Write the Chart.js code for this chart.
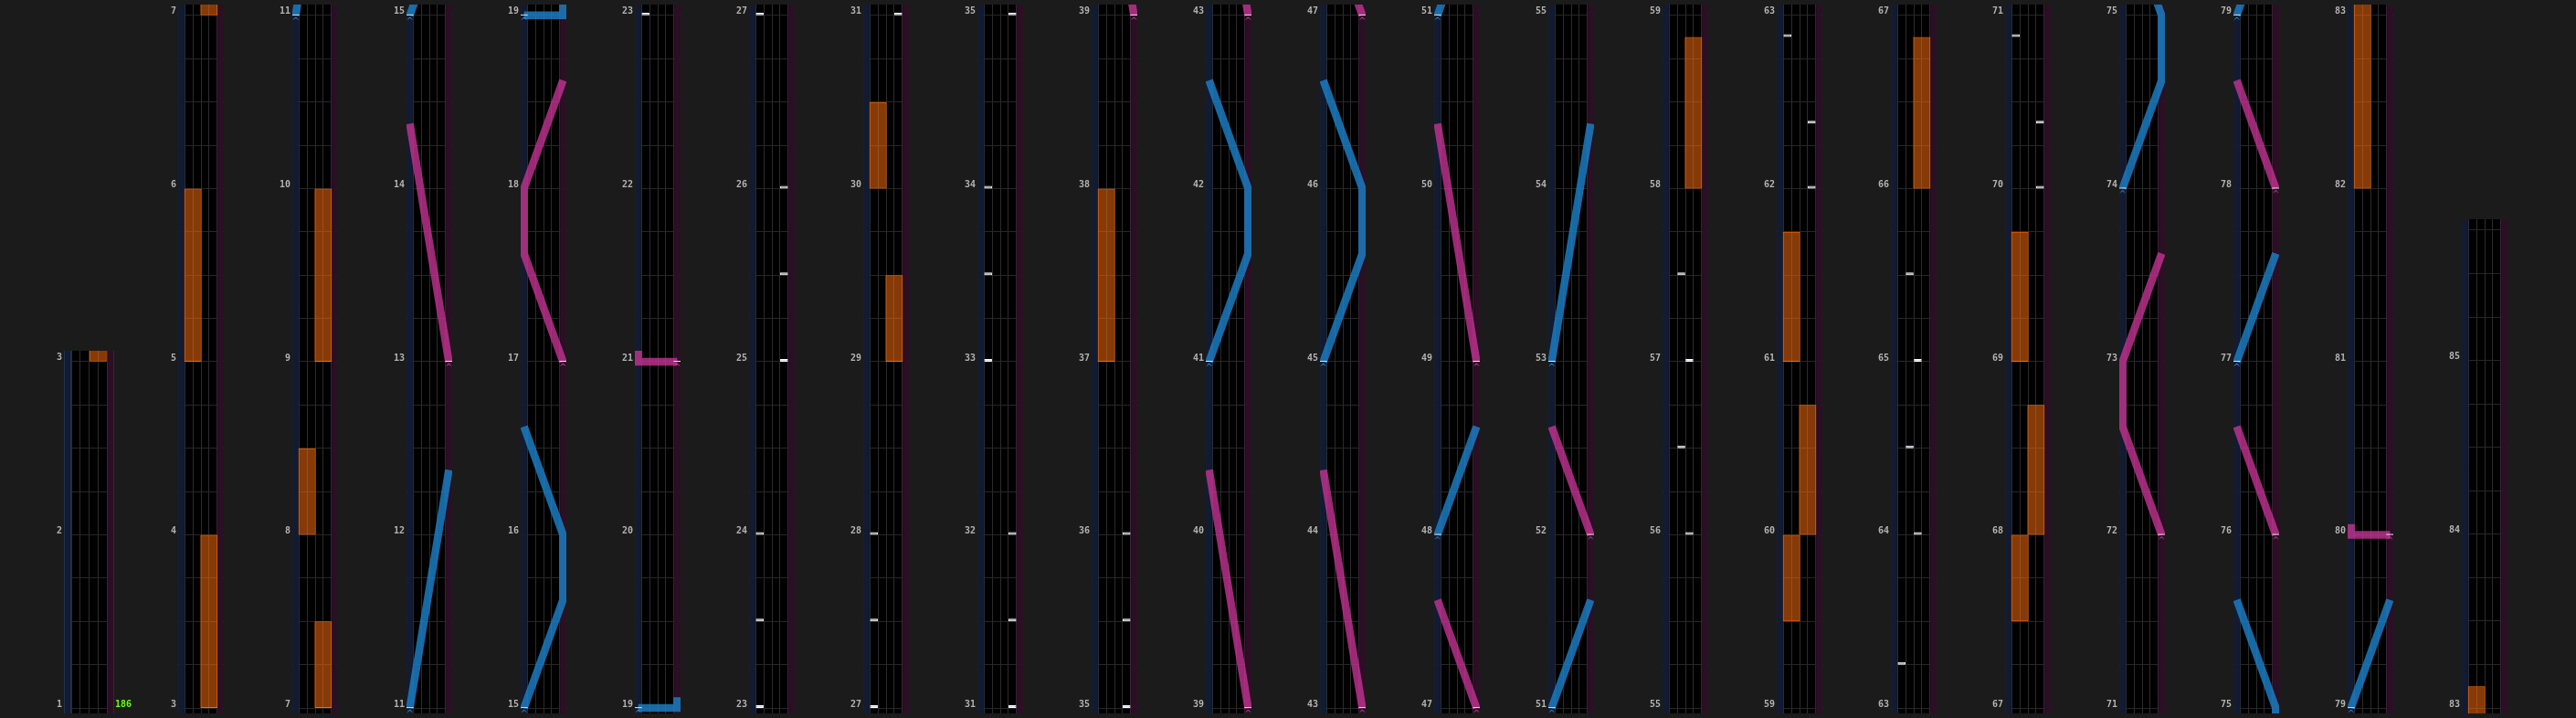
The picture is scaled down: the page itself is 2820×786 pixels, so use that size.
<!DOCTYPE html>
<html lang="en">
<head>
  <meta charset="UTF-8">
  <title>Chart</title>
  <script src="https://cdn.jsdelivr.net/npm/chart.js"></script>
  <style>
    body { margin: 0; background: #1b1b1b; width: 2820px; height: 786px; overflow: hidden; position: relative; }
    canvas { position: absolute; top: 0; }
  </style>
</head>
<body>
<script>
// measure where each column starts (each column holds 4 measures, the first one 2)
const columnStarts = [1, 3, 7, 11, 15, 19, 23, 27, 31, 35, 39, 43, 47, 51, 55, 59, 63, 67, 71, 75, 79, 83];
const songEnd = 85.75;

// [measure, bpm]
const bpmChanges = [[1, 186]];

// BT chips: [lane 1-4, measure]
const btChips = [
  [1, 23], [1, 23.5], [1, 24],
  [4, 25], [4, 25.5], [4, 26],
  [1, 27], [1, 27.5], [1, 28],
  [4, 31], [4, 31.5], [4, 32],
  [1, 33], [1, 33.5], [1, 34],
  [4, 35], [4, 35.5], [4, 36],
  [3, 56], [2, 56.5], [3, 57], [2, 57.5],
  [4, 62], [4, 62.375], [1, 62.875],
  [1, 63.25], [3, 64], [2, 64.5], [3, 65], [2, 65.5],
  [4, 70], [4, 70.375], [1, 70.875]
];

// FX holds: [side, start, end]
const fxHolds = [
  ['R', 3, 4], ['L', 5, 6], ['R', 7, 7.5], ['L', 8, 8.5], ['R', 9, 10],
  ['R', 29, 29.5], ['L', 30, 30.5], ['L', 37, 38],
  ['R', 58, 58.875], ['L', 59.5, 60], ['R', 60, 60.75], ['L', 61, 61.75],
  ['R', 66, 66.875], ['L', 67.5, 68], ['R', 68, 68.75], ['L', 69, 69.75],
  ['L', 82, 83.125]
];

// lasers: sections of [measure, position 0..1]
const laserL = [
  [[11, 0], [12.375, 1]],
  [[15, 0], [15.625, 1], [16, 1], [16.625, 0]],
  [[19, 0], [19, 1], [19.0625, 1]],
  [[41, 0], [41.625, 1], [42, 1], [42.625, 0]],
  [[45, 0], [45.625, 1], [46, 1], [46.625, 0]],
  [[48, 0], [48.625, 1]],
  [[51, 0], [51.625, 1]],
  [[53, 0], [54.375, 1]],
  [[74, 0], [74.625, 1], [75, 1], [75.625, 0]],
  [[77, 0], [77.625, 1]],
  [[79, 0], [79.625, 1]]
];
const laserR = [
  [[13, 1], [14.375, 0]],
  [[17, 1], [17.625, 0], [18, 0], [18.625, 1]],
  [[21, 1], [21, 0], [21.0625, 0]],
  [[39, 1], [40.375, 0]],
  [[43, 1], [44.375, 0]],
  [[47, 1], [47.625, 0]],
  [[49, 1], [50.375, 0]],
  [[52, 1], [52.625, 0]],
  [[72, 1], [72.625, 0], [73, 0], [73.625, 1]],
  [[76, 1], [76.625, 0]],
  [[78, 1], [78.625, 0]],
  [[80, 1], [80, 0], [80.0625, 0]]
];

// layout
const PX_PER_MEASURE = 192;
const COL_PITCH = 125;
const AXIS_W = 70;
const CANVAS_H = 786;
const OVERLAP = 0.0625;
const BELOW = 6 / PX_PER_MEASURE;
const CHIP_LEN = 3 / PX_PER_MEASURE;
const LANE_L = 4 / 47, LANE_R = 43 / 47, LANE_W = (LANE_R - LANE_L) / 4;
const laneEdges = [0, 1, 2, 3, 4].map(i => LANE_L + i * LANE_W);

function laserPoints(sections) {
  const pts = [];
  sections.forEach(sec => {
    sec.forEach(([m, p]) => pts.push({ x: p, y: m }));
    pts.push({ x: null, y: null });
  });
  return pts;
}

function startMark(color) {
  const c = document.createElement('canvas');
  c.width = 12; c.height = 16;
  const g = c.getContext('2d');
  g.fillStyle = '#e6e6e6';
  g.fillRect(2, 7, 8, 1);
  g.strokeStyle = color;
  g.lineWidth = 1;
  g.beginPath();
  g.moveTo(3.5, 12.5); g.lineTo(6, 10); g.lineTo(8.5, 12.5);
  g.stroke();
  return c;
}
const markL = startMark('#4597da');
const markR = startMark('#c4559f');

const plotBg = {
  id: 'plotBg',
  beforeDraw(chart) {
    const { ctx, chartArea: a } = chart;
    ctx.save();
    ctx.fillStyle = '#000';
    ctx.fillRect(a.left, a.top, a.right - a.left, a.bottom - a.top);
    ctx.restore();
  },
  afterDraw(chart) {
    const { ctx, chartArea: a, scales } = chart;
    const y = scales.y;
    ctx.save();
    ctx.fillStyle = '#66ff11';
    ctx.font = 'bold 10px "DejaVu Sans Mono"';
    ctx.textAlign = 'left';
    ctx.textBaseline = 'middle';
    bpmChanges.forEach(([m, v]) => {
      if (m >= y.min && m < y.max) ctx.fillText(String(v), a.right + 1, y.getPixelForValue(m) - 4);
    });
    ctx.restore();
  }
};

columnStarts.forEach((start, k) => {
  const end = k + 1 < columnStarts.length ? columnStarts[k + 1] : songEnd;
  const lo = start - BELOW;
  const hi = end + OVERLAP;
  const extraRight = k === 0 ? 25 : 0;

  const cv = document.createElement('canvas');
  cv.width = COL_PITCH + extraRight;
  cv.height = CANVAS_H;
  cv.style.left = (k * COL_PITCH) + 'px';
  document.body.appendChild(cv);

  const measureTicks = [];
  for (let v = start; v <= hi + 1e-9; v += 1) measureTicks.push({ value: v });
  const beatTicks = [];
  for (let v = start; v <= hi + 1e-9; v += 0.25) beatTicks.push({ value: v });

  new Chart(cv, {
    type: 'scatter',
    data: {
      datasets: [
        {
          type: 'bar', order: 6, stack: 'n',
          data: [{ x: 0, y: [lo, hi] }],
          backgroundColor: '#121b31', borderColor: '#20334f',
          borderWidth: { left: 1, right: 1, top: 0, bottom: 0 }, borderSkipped: false,
          barThickness: 8, inflateAmount: 0
        },
        {
          type: 'bar', order: 6, stack: 'n',
          data: [{ x: 1, y: [lo, hi] }],
          backgroundColor: '#2b0f24', borderColor: '#4a1b3e',
          borderWidth: { left: 1, right: 1, top: 0, bottom: 0 }, borderSkipped: false,
          barThickness: 8, inflateAmount: 0
        },
        {
          type: 'bar', order: 5, stack: 'n',
          data: fxHolds.map(([side, s, e]) => ({ x: LANE_L + (side === 'L' ? 1 : 3) * LANE_W, y: [s, e] })),
          backgroundColor: 'rgba(255,112,16,0.52)', borderColor: '#ff6a00',
          borderWidth: 1, borderSkipped: false, barThickness: 19, inflateAmount: 0
        },
        {
          type: 'bar', order: 4, stack: 'n',
          data: btChips.map(([lane, m]) => ({ x: LANE_L + (lane - 0.5) * LANE_W, y: [m, m + CHIP_LEN] })),
          backgroundColor: '#d6dce6', borderColor: '#ffffff',
          borderWidth: 1, borderSkipped: false, barThickness: 8.5, inflateAmount: 0
        },
        {
          type: 'line', order: 3,
          data: laserPoints(laserL),
          borderColor: 'rgba(28,128,200,0.82)', borderWidth: 8.5,
          borderJoinStyle: 'miter', borderCapStyle: 'butt',
          pointRadius: 0, tension: 0, spanGaps: false
        },
        {
          type: 'line', order: 3,
          data: laserPoints(laserR),
          borderColor: 'rgba(200,52,150,0.78)', borderWidth: 8.5,
          borderJoinStyle: 'miter', borderCapStyle: 'butt',
          pointRadius: 0, tension: 0, spanGaps: false
        },
        {
          type: 'scatter', order: 2,
          data: laserL.map(sec => ({ x: sec[0][1], y: sec[0][0] })),
          pointStyle: markL, pointRadius: 4
        },
        {
          type: 'scatter', order: 2,
          data: laserR.map(sec => ({ x: sec[0][1], y: sec[0][0] })),
          pointStyle: markR, pointRadius: 4
        }
      ]
    },
    options: {
      responsive: false,
      animation: false,
      devicePixelRatio: 1,
      events: [],
      layout: { padding: { top: CANVAS_H - (hi - lo) * PX_PER_MEASURE, right: extraRight, left: 0, bottom: 0 } },
      plugins: { legend: { display: false }, tooltip: { enabled: false } },
      scales: {
        x: {
          type: 'linear', min: -4 / 47, max: 51 / 47, offset: false,
          afterBuildTicks: s => { s.ticks = laneEdges.map(v => ({ value: v })); },
          grid: { color: '#2c2c2c', drawTicks: false, offset: false },
          ticks: { display: false },
          border: { display: false },
          afterFit: s => { s.height = 0; s.paddingLeft = 0; s.paddingRight = 0; }
        },
        y: {
          type: 'linear', position: 'left', min: lo, max: hi, stacked: false, z: 1,
          afterBuildTicks: s => { s.ticks = measureTicks.slice(); },
          grid: { color: '#7e7e7e', drawTicks: false },
          border: { display: false },
          ticks: {
            color: '#b2b2b2', padding: 2, labelOffset: -4, autoSkip: false,
            font: { family: 'DejaVu Sans Mono', size: 10, weight: 'bold' },
            callback: v => String(v)
          },
          afterFit: s => { s.width = AXIS_W; s.paddingTop = 0; s.paddingBottom = 0; }
        },
        yBeat: {
          type: 'linear', position: 'right', min: lo, max: hi,
          afterBuildTicks: s => { s.ticks = beatTicks.slice(); },
          grid: { color: '#272727', drawTicks: false },
          border: { display: false },
          ticks: { display: false },
          afterFit: s => { s.width = 0; s.paddingTop = 0; s.paddingBottom = 0; }
        }
      }
    },
    plugins: [plotBg]
  });
});
</script>
</body>
</html>
